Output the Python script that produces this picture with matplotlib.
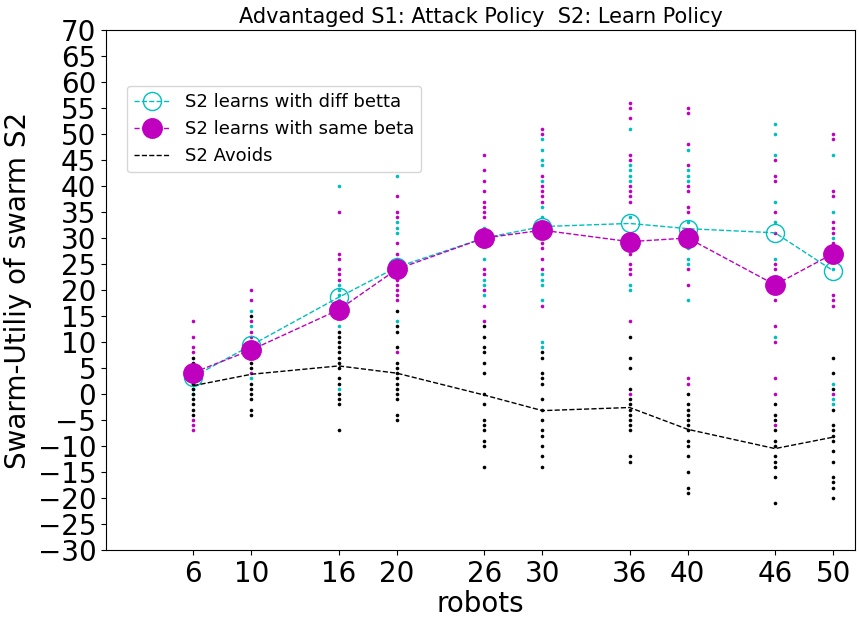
import matplotlib
matplotlib.use("Agg")
import matplotlib.pyplot as plt

# swarm sizes on the x axis
robots = [6, 10, 16, 20, 26, 30, 36, 40, 46, 50]

# per-trial utilities of swarm S2, one list per swarm size
diff_trials = [
    [5, 4, 3, 2, 1, 0],
    [16, 13, 10, 9, 3],
    [40, 21, 20, 19, 18, 13, 1],
    [42, 33, 32, 31, 26, 25, 14],
    [32, 30, 26, 22, 21, 19],
    [49, 47, 45, 44, 41, 36, 34, 33, 23, 22, 21, 18, 10, 9],
    [51, 44, 43, 42, 41, 34, 21, 20],
    [47, 43, 42, 41, 33, 28, 26, 25, 18],
    [52, 50, 46, 37, 33, 26, 11],
    [46, 35, 30, 24, 2, -1, -2],
]
same_trials = [
    [14, 11, 9, 8, 5, 4, 3, -5, -6, -7],
    [20, 18, 14, 12, 11, 8, 4],
    [35, 27, 26, 24, 23, 22, 17, 16, 15],
    [38, 35, 34, 29, 27, 24, 22, 21, 20, 19, 18, 8],
    [46, 43, 41, 39, 37, 36, 35, 34, 29, 24, 23, 20, 17, 14],
    [51, 50, 42, 40, 39, 38, 37, 31, 29, 28, 26, 24, 17],
    [56, 55, 53, 46, 45, 40, 39, 38, 37, 29, 27, 25, 24, 23, 14, 0],
    [55, 54, 48, 44, 40, 39, 36, 35, 30, 24, 21, 3, 2],
    [45, 42, 41, 35, 31, 25, 24, 21, 18, 13, 10, 3, 0, -6],
    [50, 49, 39, 38, 33, 32, 31, 29, 27, 19, 18, 17, 0],
]
avoid_trials = [
    [7, 6, 2, 1, 0, -1, -2, -3, -4],
    [15, 6, 5, 2, 1, 0, -1, -3, -4],
    [12, 11, 10, 9, 8, 7, 6, 5, 3, 2, 0, -1, -2, -7],
    [16, 13, 12, 9, 6, 5, 4, 3, 2, 1, 0, -1, -4, -5],
    [13, 11, 9, 8, 6, 4, 0, -2, -5, -6, -7, -9, -10, -14],
    [8, 7, 4, 3, 2, -1, -3, -5, -7, -8, -10, -12, -14],
    [11, 7, 5, 1, -1, -2, -3, -4, -5, -6, -7, -12, -13],
    [0, -2, -3, -4, -5, -6, -7, -9, -10, -12, -15, -18, -19],
    [-2, -4, -5, -7, -9, -10, -12, -13, -14, -16, -21],
    [7, 4, 1, -3, -6, -7, -8, -9, -11, -13, -16, -17, -18, -20],
]

# mean utility per swarm size
diff_mean = [3.3, 9.4, 18.6, 24.4, 30.0, 32.2, 32.8, 31.8, 31.0, 23.7]
same_mean = [4.1, 8.5, 16.2, 24.0, 30.0, 31.5, 29.3, 30.0, 21.0, 27.0]
avoid_mean = [1.6, 3.8, 5.4, 4.0, -0.2, -3.2, -2.6, -6.8, -10.5, -8.3]

xticks = robots
yticks = list(range(-30, 71, 5))

fig = plt.figure(figsize=(8.59, 6.19), dpi=100)
ax = fig.add_axes([0.1234, 0.1115, 0.872, 0.840])

# individual trials as small dots
for trials, col in ((diff_trials, "c"), (same_trials, "m"), (avoid_trials, "k")):
    for x, vals in zip(robots, trials):
        ax.plot([x] * len(vals), vals, "o", color=col, ms=2.6, mew=0, zorder=2)

# means
ax.plot(robots, diff_mean, "--o", color="c", mfc="none", ms=13, lw=1,
        label="S2 learns with diff betta", zorder=3)
ax.plot(robots, same_mean, "--o", color="m", ms=14, lw=1,
        label="S2 learns with same beta", zorder=4)
ax.plot(robots, avoid_mean, "--", color="k", lw=1, label="S2 Avoids", zorder=3)

ax.set_xlim(0, 51.5)
ax.set_ylim(-30, 70)
ax.set_xticks(xticks)
ax.set_yticks(yticks)
ax.tick_params(labelsize=20)
ax.set_xlabel("robots", fontsize=20, labelpad=2)
ax.set_ylabel("Swarm-Utiliy of swarm S2", fontsize=20)
ax.set_title("Advantaged S1: Attack Policy  S2: Learn Policy", fontsize=15, pad=5)

ax.legend(loc="upper left", bbox_to_anchor=(0.028, 0.893), borderaxespad=0,
          fontsize=13, numpoints=1)

fig.savefig("out.png", dpi=100)
